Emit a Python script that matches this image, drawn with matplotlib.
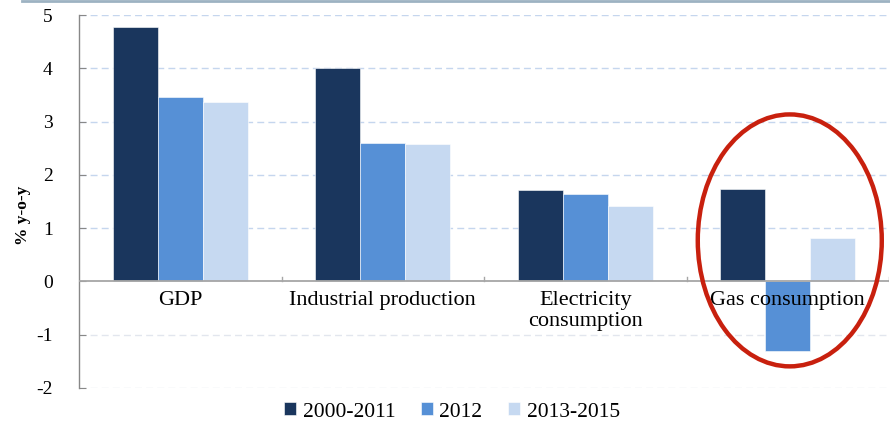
import matplotlib
matplotlib.use("Agg")
import matplotlib.pyplot as plt
from matplotlib.patches import Ellipse
import numpy as np

categories = ["GDP", "Industrial production", "Electricity\nconsumption", "Gas consumption"]
series_names = ["2000-2011", "2012", "2013-2015"]
values_2000_2011 = [4.78, 4.00, 1.72, 1.73]
values_2012 = [3.46, 2.60, 1.64, -1.30]
values_2013_2015 = [3.37, 2.58, 1.41, 0.81]
yticks = [-2, -1, 0, 1, 2, 3, 4, 5]

colors = ["#1A365D", "#5690D6", "#C6D9F1"]
serif = ["Liberation Serif", "DejaVu Serif"]

W, H = 890, 422
fig = plt.figure(figsize=(W / 100, H / 100), dpi=100)
ax = fig.add_axes([79 / W, (H - 388) / H, (889 - 79) / W, (388 - 15) / H])

x = np.arange(len(categories))
bw = 0.222
series = [values_2000_2011, values_2012, values_2013_2015]
for k, (vals, name, c) in enumerate(zip(series, series_names, colors)):
    ax.bar(x + (k - 1) * bw, vals, width=bw, color=c, label=name,
           edgecolor="white", linewidth=0.4, zorder=3)

ax.set_xlim(-0.5, len(categories) - 0.5)
ax.set_ylim(-2, 5)
ax.set_yticks(yticks)
ax.set_yticklabels([str(v) for v in yticks], fontfamily=serif, fontsize=14)
ax.tick_params(axis="y", direction="in", length=5, color="#888888", pad=19)

# dashed horizontal grid
for v in yticks:
    if v == 0:
        continue
    gc = "#C5D6EE" if v > 0 else "#E2E6EE"
    ax.axhline(v, color=gc, linestyle=(0, (5, 3)), linewidth=1.0, zorder=1)

# zero baseline with category separators
ax.axhline(0, color="#A6A6A6", linewidth=1.3, zorder=4)
for b in np.arange(0.5, len(categories), 1.0):
    ax.plot([b, b], [0, 0.08], color="#A6A6A6", linewidth=1.0, zorder=4)

ax.set_xticks([])
for s in ["top", "right", "bottom"]:
    ax.spines[s].set_visible(False)
ax.spines["left"].set_color("#888888")
ax.spines["left"].set_linewidth(1.0)

# category labels drawn above bars
for i, lab in enumerate(categories):
    ax.text(i, -0.18, lab, ha="center", va="top", fontfamily=serif,
            fontsize=16, zorder=6, linespacing=1.15)

ax.set_ylabel("% y-o-y", fontfamily=serif, fontsize=12.5, fontweight="bold")
ax.yaxis.set_label_coords((31 - 79) / 810, (388 - 215) / 373)

# highlight ring round gas consumption
ell = Ellipse((3.01, 0.77), width=184 / 202.5, height=252 / 53.3,
              fill=False, edgecolor="#C8200E", linewidth=3.2, zorder=7, clip_on=False)
ax.add_patch(ell)

# faint top frame
fig.add_artist(plt.Line2D([22 / W, 1.0], [1 - 1 / H, 1 - 1 / H], color="#9DB2C2",
                          linewidth=2.0, transform=fig.transFigure))

leg = fig.legend(loc="center", bbox_to_anchor=(452 / W, 1 - 412 / H), ncol=3,
                 frameon=False, prop={"family": serif, "size": 15.5},
                 handlelength=0.55, handleheight=0.55, handletextpad=0.3,
                 columnspacing=1.2)

fig.savefig("out.png", dpi=100)
